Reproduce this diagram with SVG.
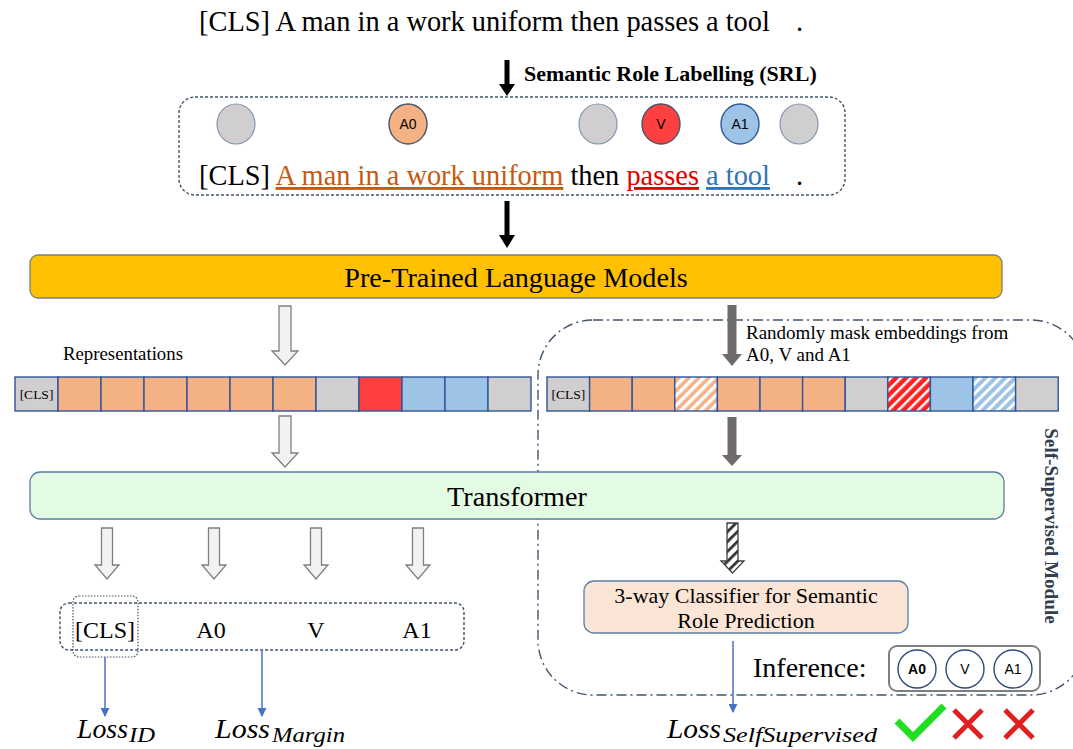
<svg xmlns="http://www.w3.org/2000/svg" width="1073" height="749" viewBox="0 0 1073 749">
<style>
.serif{font-family:"Liberation Serif","Times New Roman",serif;fill:#000}
.sans{font-family:"Liberation Sans",Arial,sans-serif;fill:#000}
.hollow{fill:#F2F2F2;stroke:#7F7F7F;stroke-width:1.3}
.dark{fill:#6F6B6B;stroke:none}
.black{fill:#000;stroke:none}
.cell{stroke:#2F5597;stroke-width:1.4}
.g{fill:#D0CECE}.o{fill:#F4B183}.r{fill:#FF4040}.b{fill:#9DC3E6}
.blue{stroke:#4472C4;stroke-width:1.5;fill:none}
.italic{font-family:"Liberation Serif","Times New Roman",serif;font-style:italic;fill:#000}
</style>
<defs>
<pattern id="hO" width="7" height="7" patternUnits="userSpaceOnUse" patternTransform="rotate(45)"><rect width="7" height="7" fill="#F4B183"/><rect width="3.5" height="7" fill="#FFFFFF"/></pattern>
<pattern id="hR" width="7" height="7" patternUnits="userSpaceOnUse" patternTransform="rotate(45)"><rect width="7" height="7" fill="#FF2020"/><rect width="2.5" height="7" fill="#FFFFFF"/></pattern>
<pattern id="hB" width="7" height="7" patternUnits="userSpaceOnUse" patternTransform="rotate(45)"><rect width="7" height="7" fill="#9DC3E6"/><rect width="3" height="7" fill="#FFFFFF"/></pattern>
<pattern id="hK" width="7" height="7" patternUnits="userSpaceOnUse" patternTransform="rotate(45)"><rect width="7" height="7" fill="#FFFFFF"/><rect width="2.8" height="7" fill="#333333"/></pattern>
<marker id="ah" viewBox="0 0 10 10" refX="9" refY="5" markerWidth="9" markerHeight="9" markerUnits="userSpaceOnUse" orient="auto"><path d="M0,0 L10,5 L0,10 Z" fill="#4472C4"/></marker>
</defs>

<g id="sentence">
<text class="serif" x="199" y="31" font-size="28.4">[CLS] A man in a work uniform then passes a tool</text>
<text class="serif" x="796" y="31" font-size="28.4">.</text>
</g>

<g id="srl-box">
<rect x="179" y="97" width="666" height="98" rx="16" fill="none" stroke="#44546A" stroke-width="1.4" stroke-dasharray="3,2"/>
<ellipse cx="236" cy="124" rx="19" ry="20" fill="#D0CECE" stroke="#8497B0" stroke-width="1.2"/>
<ellipse cx="408" cy="124" rx="19" ry="20" fill="#F4B183" stroke="#44546A" stroke-width="1.4"/>
<text class="sans" x="408" y="129" font-size="14" text-anchor="middle">A0</text>
<ellipse cx="598" cy="124" rx="19" ry="20" fill="#D0CECE" stroke="#8497B0" stroke-width="1.2"/>
<ellipse cx="661" cy="124" rx="19" ry="20" fill="#FF4040" stroke="#44546A" stroke-width="1.4"/>
<text class="sans" x="661" y="129" font-size="14" text-anchor="middle">V</text>
<ellipse cx="740" cy="124" rx="19" ry="20" fill="#9DC3E6" stroke="#2F5597" stroke-width="1.4"/>
<text class="sans" x="740" y="129" font-size="14" text-anchor="middle">A1</text>
<ellipse cx="799" cy="124" rx="19" ry="20" fill="#D0CECE" stroke="#8497B0" stroke-width="1.2"/>
<text class="serif" x="199" y="185" font-size="28.4">[CLS] <tspan fill="#C55A11" text-decoration="underline">A man in a work uniform</tspan> then <tspan fill="#E00000" text-decoration="underline">passes</tspan> <tspan fill="#2E75B6" text-decoration="underline">a tool</tspan></text>
<text class="serif" x="796" y="185" font-size="28.4">.</text>
</g>

<g id="plm">
<rect x="30" y="255" width="972" height="43" rx="8" fill="#FFC000" stroke="#7F7F7F" stroke-width="1.3"/>
<text class="serif" x="516" y="287" font-size="28.2" text-anchor="middle">Pre-Trained Language Models</text>
</g>

<g id="rep-left">
<text class="serif" x="63" y="360" font-size="18.8">Representations</text>
<rect class="cell g" x="15" y="377" width="43" height="34"/>
<text class="serif" x="36.5" y="399" font-size="13.5" text-anchor="middle">[CLS]</text>
<rect class="cell o" x="58" y="377" width="43" height="34"/>
<rect class="cell o" x="101" y="377" width="43" height="34"/>
<rect class="cell o" x="144" y="377" width="43" height="34"/>
<rect class="cell o" x="187" y="377" width="43" height="34"/>
<rect class="cell o" x="230" y="377" width="43" height="34"/>
<rect class="cell o" x="273" y="377" width="43" height="34"/>
<rect class="cell g" x="316" y="377" width="43" height="34"/>
<rect class="cell r" x="359" y="377" width="43" height="34"/>
<rect class="cell b" x="402" y="377" width="43" height="34"/>
<rect class="cell b" x="445" y="377" width="43" height="34"/>
<rect class="cell g" x="488" y="377" width="43" height="34"/>
</g>

<g id="self-supervised-module">
<rect x="538" y="320" width="548" height="375" rx="55" fill="none" stroke="#44546A" stroke-width="1.4" stroke-dasharray="10,4,2,4"/>
<text class="serif" transform="translate(1045,526) rotate(90)" font-size="19.2" font-weight="bold" text-anchor="middle" style="fill:#333F50">Self-Supervised Module</text>
<text class="serif" x="746" y="339" font-size="19">Randomly mask embeddings from</text>
<text class="serif" x="746" y="361" font-size="19">A0, V and A1</text>
</g>

<g id="rep-right">
<rect class="cell g" x="547" y="377" width="42.6" height="34"/>
<text class="serif" x="568.3" y="399" font-size="13.5" text-anchor="middle">[CLS]</text>
<rect class="cell o" x="589.6" y="377" width="42.6" height="34"/>
<rect class="cell o" x="632.2" y="377" width="42.6" height="34"/>
<rect class="cell" x="674.8" y="377" width="42.6" height="34" fill="url(#hO)"/>
<rect class="cell o" x="717.4" y="377" width="42.6" height="34"/>
<rect class="cell o" x="760" y="377" width="42.6" height="34"/>
<rect class="cell o" x="802.6" y="377" width="42.6" height="34"/>
<rect class="cell g" x="845.2" y="377" width="42.6" height="34"/>
<rect class="cell" x="887.8" y="377" width="42.6" height="34" fill="url(#hR)"/>
<rect class="cell b" x="930.4" y="377" width="42.6" height="34"/>
<rect class="cell" x="973" y="377" width="42.6" height="34" fill="url(#hB)"/>
<rect class="cell g" x="1015.6" y="377" width="42.6" height="34"/>
</g>

<g id="transformer">
<rect x="30" y="472" width="974" height="47" rx="10" fill="#E3FAE3" stroke="#5B7FA6" stroke-width="1.3"/>
<text class="serif" x="517" y="506" font-size="28.2" text-anchor="middle">Transformer</text>
</g>

<g id="outputs">
<rect x="60" y="603" width="404" height="47" rx="9" fill="none" stroke="#44546A" stroke-width="1.4" stroke-dasharray="3,2"/>
<rect x="73" y="596" width="65" height="61" rx="6" fill="none" stroke="#44546A" stroke-width="1.2" stroke-dasharray="1.5,1.5"/>
<text class="serif" x="105" y="638" font-size="24" text-anchor="middle">[CLS]</text>
<text class="serif" x="211" y="638" font-size="24" text-anchor="middle">A0</text>
<text class="serif" x="316" y="638" font-size="24" text-anchor="middle">V</text>
<text class="serif" x="417" y="638" font-size="24" text-anchor="middle">A1</text>
</g>

<g id="classifier">
<rect x="584" y="581" width="324" height="52" rx="10" fill="#FBE5D6" stroke="#5B7FA6" stroke-width="1.3"/>
<text class="serif" x="746" y="603" font-size="22" text-anchor="middle">3-way Classifier for Semantic</text>
<text class="serif" x="746" y="628" font-size="22" text-anchor="middle">Role Prediction</text>
</g>

<g id="inference">
<text class="serif" x="753" y="677" font-size="28">Inference:</text>
<rect x="889" y="646" width="151" height="45" rx="8" fill="#FFFFFF" stroke="#7F7F7F" stroke-width="2"/>
<circle cx="917" cy="669" r="19" fill="#FFFFFF" stroke="#2F4B7C" stroke-width="1.4"/>
<text class="sans" x="917" y="674" font-size="14" font-weight="bold" text-anchor="middle">A0</text>
<circle cx="965" cy="669" r="19" fill="#FFFFFF" stroke="#2F4B7C" stroke-width="1.4"/>
<text class="sans" x="965" y="674" font-size="14" text-anchor="middle">V</text>
<circle cx="1013" cy="669" r="19" fill="#FFFFFF" stroke="#2F4B7C" stroke-width="1.4"/>
<text class="sans" x="1013" y="674" font-size="14" text-anchor="middle">A1</text>
</g>

<g id="losses">
<text class="italic" x="77" y="738" font-size="28" textLength="51" lengthAdjust="spacingAndGlyphs">Loss</text>
<text class="italic" x="129" y="742" font-size="20" textLength="26" lengthAdjust="spacingAndGlyphs">ID</text>
<text class="italic" x="215" y="738" font-size="28" textLength="55" lengthAdjust="spacingAndGlyphs">Loss</text>
<text class="italic" x="272" y="742" font-size="20" textLength="73" lengthAdjust="spacingAndGlyphs">Margin</text>
<text class="italic" x="667" y="738" font-size="28" textLength="54" lengthAdjust="spacingAndGlyphs">Loss</text>
<text class="italic" x="723" y="742" font-size="20" textLength="154" lengthAdjust="spacingAndGlyphs">SelfSupervised</text>
</g>

<g id="results">
<path d="M897,721 L913,737 L944,706" fill="none" stroke="#22DD22" stroke-width="7" stroke-linejoin="miter"/>
<path d="M954,710 L982,738 M982,710 L954,738" fill="none" stroke="#E02020" stroke-width="5"/>
<path d="M1005,710 L1033,738 M1033,710 L1005,738" fill="none" stroke="#E02020" stroke-width="5"/>
</g>

<g id="connectors">
<text class="serif" x="524" y="81" font-size="22" font-weight="bold">Semantic Role Labelling (SRL)</text>
<path class="black" d="M504.5,60 H509.5 V84 H515 L507,96 L499,84 H504.5 Z"/>
<path class="black" d="M504.5,201 H509.5 V235 H515 L507,248 L499,235 H504.5 Z"/>
<path class="hollow" d="M279,306 H291 V351 H298 L285,365 L272,351 H279 Z"/>
<path class="hollow" d="M279,416 H291 V453 H298 L285,467 L272,453 H279 Z"/>
<path class="dark" d="M727.5,305 H736.5 V354 H742 L732,366 L722,354 H727.5 Z"/>
<path class="dark" d="M727.5,417 H736.5 V455 H742 L732,466 L722,455 H727.5 Z"/>
<path d="M727,523 H738 V561 H744 L732.5,573 L721,561 H727 Z" fill="url(#hK)" stroke="#404040" stroke-width="1.3"/>
<path class="hollow" d="M101.5,528 H112.5 V565 H119 L107,579 L95,565 H101.5 Z"/>
<path class="hollow" d="M208.5,528 H219.5 V565 H226 L214,579 L202,565 H208.5 Z"/>
<path class="hollow" d="M310.5,528 H321.5 V565 H328 L316,579 L304,565 H310.5 Z"/>
<path class="hollow" d="M412.5,528 H423.5 V565 H430 L418,579 L406,565 H412.5 Z"/>
<line class="blue" x1="105" y1="657" x2="105" y2="716" marker-end="url(#ah)"/>
<line class="blue" x1="262" y1="650" x2="262" y2="716" marker-end="url(#ah)"/>
<line class="blue" x1="733" y1="641" x2="733" y2="712" marker-end="url(#ah)"/>
</g>
</svg>
